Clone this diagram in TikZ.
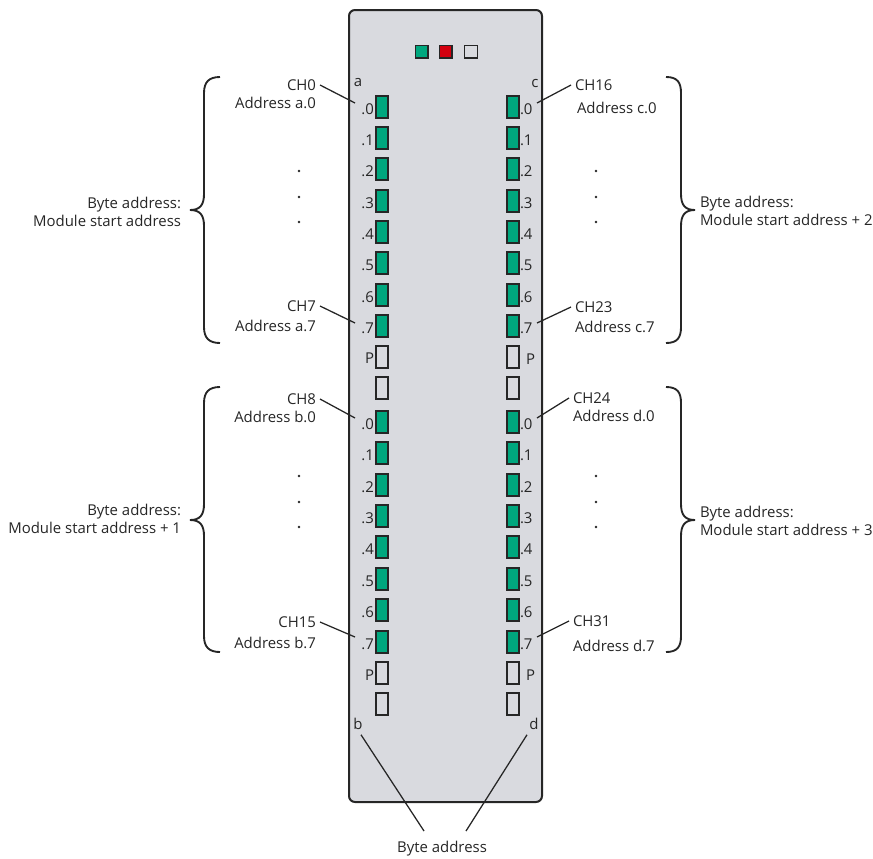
\documentclass[tikz,border=0pt]{standalone}
\usepackage{fontspec}
\setmainfont{Open Sans}
\definecolor{modgray}{HTML}{D9DADF}
\definecolor{ledgreen}{HTML}{00A77E}
\definecolor{ledred}{HTML}{D4000F}
\definecolor{inkc}{HTML}{262626}
\tikzset{
  frame/.style={draw=inkc,line width=1.5pt,fill=modgray,rounded corners=4.5pt},
  ledon/.style={draw=inkc,line width=1pt,fill=ledgreen,minimum width=9pt,minimum height=16.5pt,inner sep=0pt,outer sep=0pt},
  ledoff/.style={draw=inkc,line width=1pt,fill=modgray,minimum width=9pt,minimum height=16.5pt,inner sep=0pt,outer sep=0pt},
  stat/.style={draw=inkc,line width=1pt,minimum width=9.5pt,minimum height=9.5pt,inner sep=0pt,outer sep=0pt},
  txt/.style={font=\fontsize{11.2pt}{13.8pt}\selectfont,text=inkc,inner sep=0pt,outer sep=3pt},
  ltxt/.style={txt,anchor=east},
  rtxt/.style={txt,anchor=west},
  ctxt/.style={txt,anchor=center},
  leader/.style={draw=inkc,line width=0.95pt},
  bracepath/.style={draw=inkc,line width=1.4pt},
  dotmark/.style={fill=inkc,circle,minimum size=2pt,inner sep=0pt},
}
\begin{document}
\begin{tikzpicture}[x=0.75pt,y=-0.75pt]
\useasboundingbox (0,0) rectangle (873,858);
\node[frame,minimum width=144.75pt,minimum height=594pt,inner sep=0pt] (module) at (445.5,406) {};
\node[stat,fill=ledgreen] (s1) at (421.5,51.5) {};
\node[stat,fill=ledred] (s2) at (445.5,51.5) {};
\node[stat,fill=modgray] (s3) at (471,51.5) {};
% LEDs with bit labels
\foreach \y/\n/\t in {107/0/.0,138/1/.1,169/2/.2,201/3/.3,232/4/.4,263/5/.5,295/6/.6,326/7/.7}{
  \node[ledon] (la\n) at (382,\y) {};
  \node[ledon] (lc\n) at (513,\y) {};
  \node[ltxt,outer sep=0pt] (ta\n) at (374,\y+2) {\t};
  \node[rtxt,outer sep=0pt] (tc\n) at (520,\y+2) {\t};
}
\foreach \y/\n/\t in {422/0/.0,453/1/.1,485/2/.2,516/3/.3,547/4/.4,579/5/.5,610/6/.6,642/7/.7}{
  \node[ledon] (lb\n) at (382,\y) {};
  \node[ledon] (ld\n) at (513,\y) {};
  \node[ltxt,outer sep=0pt] (tb\n) at (374,\y+2) {\t};
  \node[rtxt,outer sep=0pt] (td\n) at (520,\y+2) {\t};
}
\node[ledoff] (lpa) at (382,357) {};
\node[ledoff] (lpc) at (513,357) {};
\node[ledoff] (lxa) at (382,388) {};
\node[ledoff] (lxc) at (513,388) {};
\node[ledoff] (lpb) at (382,673) {};
\node[ledoff] (lpd) at (513,673) {};
\node[ledoff] (lxb) at (382,704) {};
\node[ledoff] (lxd) at (513,704) {};
\node[ltxt,outer sep=0pt] (tpa) at (374,358) {P};
\node[rtxt,outer sep=0pt] (tpc) at (526,359) {P};
\node[ltxt,outer sep=0pt] (tpb) at (374,675) {P};
\node[rtxt,outer sep=0pt] (tpd) at (526,675) {P};
\node[ctxt] (na) at (358,83) {a};
\node[ctxt] (nc) at (535,83) {c};
\node[ctxt] (nb) at (358,724) {b};
\node[ctxt] (nd) at (534,724) {d};
% channel labels
\node[ltxt] (ch0) at (320,85) {CH0};
\node[ltxt] (ada0) at (320,103) {Address a.0};
\node[ltxt] (ch7) at (320,306) {CH7};
\node[ltxt] (ada7) at (320,326) {Address a.7};
\node[ltxt] (ch8) at (320,399) {CH8};
\node[ltxt] (adb0) at (320,417) {Address b.0};
\node[ltxt] (ch15) at (320,622) {CH15};
\node[ltxt] (adb7) at (320,643) {Address b.7};
\node[rtxt] (ch16) at (571,85) {CH16};
\node[rtxt] (adc0) at (573,108) {Address c.0};
\node[rtxt] (ch23) at (571,307) {CH23};
\node[rtxt] (adc7) at (571,327) {Address c.7};
\node[rtxt] (ch24) at (569,398) {CH24};
\node[rtxt] (add0) at (569,416) {Address d.0};
\node[rtxt] (ch31) at (569,621) {CH31};
\node[rtxt] (add7) at (569,646) {Address d.7};
% byte labels
\node[txt,align=right,anchor=east,outer sep=0pt] (ba) at (181,212) {Byte address:\\Module start address};
\node[txt,align=right,anchor=east,outer sep=0pt] (bb) at (181,519) {Byte address:\\Module start address + 1};
\node[txt,align=left,anchor=west,outer sep=0pt] (bc) at (700,211) {Byte address:\\Module start address + 2};
\node[txt,align=left,anchor=west,outer sep=0pt] (bd) at (700,521) {Byte address:\\Module start address + 3};
\node[ctxt] (byte) at (442,849) {Byte address};
% dots
\foreach \y [count=\i] in {171,197,222}{\node[dotmark] (da\i) at (299,\y) {}; \node[dotmark] (dc\i) at (596,\y) {};}
\foreach \y [count=\i] in {476,502,527}{\node[dotmark] (db\i) at (299,\y) {}; \node[dotmark] (dd\i) at (596,\y) {};}
% leader ends
\coordinate (ea0) at (355,103); \coordinate (ea7) at (355,323);
\coordinate (eb0) at (355,418); \coordinate (eb7) at (355,637);
\coordinate (ec0) at (537,103); \coordinate (ec7) at (537,323);
\coordinate (ed0) at (537,418); \coordinate (ed7) at (537,637);
\draw[leader] (ch0.east) -- (ea0);
\draw[leader] (ch7.east) -- (ea7);
\draw[leader] (ch8.east) -- (eb0);
\draw[leader] (ch15.east) -- (eb7);
\draw[leader] (ch16.west) -- (ec0);
\draw[leader] (ch23.west) -- (ec7);
\draw[leader] (ch24.west) -- (ed0);
\draw[leader] (ch31.west) -- (ed7);
\coordinate (bl) at (424,831); \coordinate (br) at (466,831);
\draw[leader] (nb.south) ++(3,1) -- (bl);
\draw[leader] (nd.south) ++(-7,1) -- (br);
% braces
\foreach \t/\m/\b in {77/210/343,387/520/652}{
  \draw[bracepath] (220,\t) .. controls (209,\t) and (204,\t+5) .. (204,\t+16) -- (204,\m-16)
    .. controls (204,\m-5) and (200,\m) .. (190,\m) .. controls (200,\m) and (204,\m+5) .. (204,\m+16)
    -- (204,\b-16) .. controls (204,\b-5) and (209,\b) .. (220,\b);
  \draw[bracepath] (666,\t) .. controls (677,\t) and (681,\t+5) .. (681,\t+16) -- (681,\m-16)
    .. controls (681,\m-5) and (685,\m) .. (695,\m) .. controls (685,\m) and (681,\m+5) .. (681,\m+16)
    -- (681,\b-16) .. controls (681,\b-5) and (677,\b) .. (666,\b);
}
\end{tikzpicture}
\end{document}
